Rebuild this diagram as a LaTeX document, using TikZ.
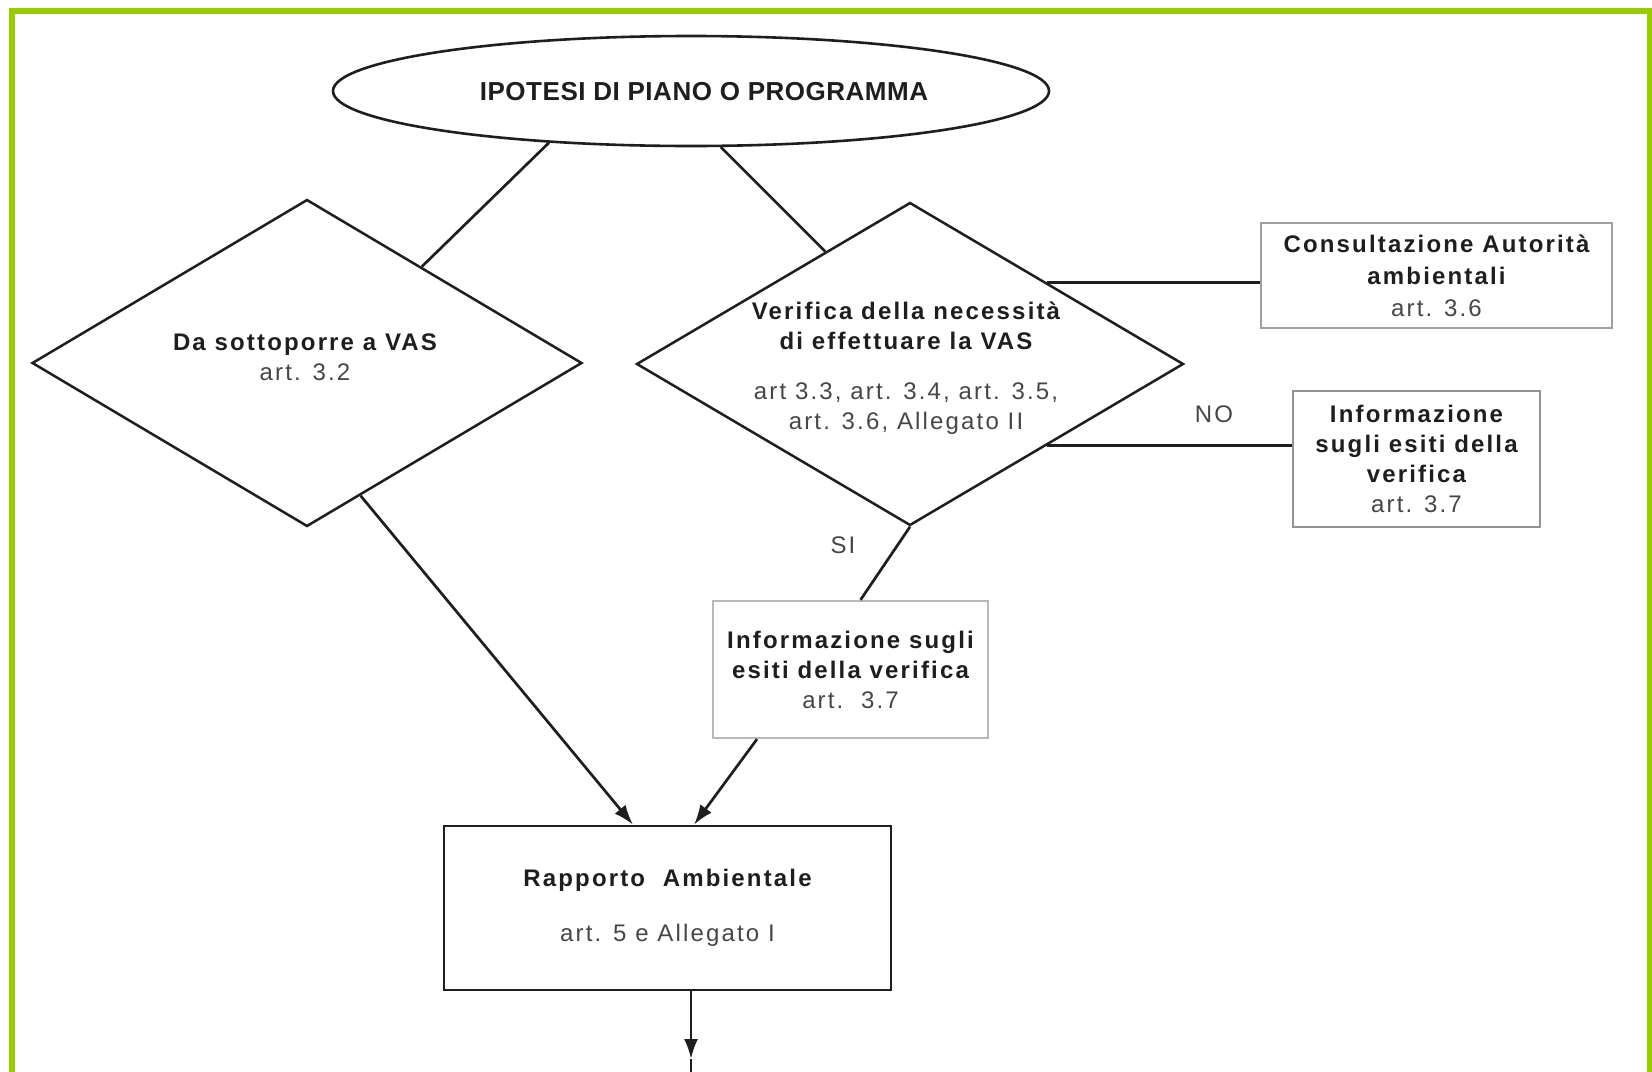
\documentclass[tikz,border=0pt]{standalone}
\usepackage{fontspec}
\usetikzlibrary{shapes.geometric,arrows.meta,calc}
\newfontfamily\labelfont{Liberation Sans}[LetterSpace=9]
\newfontfamily\titlefont{Liberation Sans}[LetterSpace=2]
\definecolor{framegreen}{RGB}{153,204,0}
\definecolor{ink}{RGB}{30,30,30}
\definecolor{softink}{RGB}{70,70,70}

\begin{document}
\begin{tikzpicture}[x=0.5pt,y=-0.5pt,
  txt/.style={font=\labelfont\fontsize{12}{15}\selectfont,align=center,inner sep=0pt,text=softink},
  conn/.style={draw=ink,line width=1.35pt},
  arr/.style={conn,-{Latex[length=10pt,width=7pt]}},
  decision/.style={shape=diamond,draw=ink,line width=1.25pt,inner sep=0pt},
  infobox/.style={draw=#1,line width=1.1pt,inner sep=0pt,fill=white,
    font=\labelfont\fontsize{12}{15}\selectfont,align=center,text=softink},
]
\useasboundingbox (0,0) rectangle (1652,1071);
\fill[white] (0,0) rectangle (1652,1071);

% green frame, open at the bottom
\draw[framegreen,line width=3pt] (12,1080) -- (12,11) -- (1649.5,11) -- (1649.5,1080);

% start: plan or programme
\node[ellipse,draw=ink,line width=1.3pt,minimum width=358pt,minimum height=55pt,inner sep=0pt]
  (ipotesi) at (691,91) {};
\node[font=\titlefont\bfseries\fontsize{13}{15}\selectfont,text=ink,inner sep=0pt]
  (ipotesit) at (704,92) {IPOTESI DI PIANO O PROGRAMMA};

% the two decisions
\node[decision,minimum width=275pt,minimum height=163.5pt] (d1) at (307,363) {};
\node[txt] (d1t) at (305,357)
  {\textcolor{ink}{\bfseries Da sottoporre a VAS}\\art. 3.2};

\node[decision,minimum width=273.5pt,minimum height=161.5pt] (d2) at (910,364) {};
\node[txt] (d2t) at (906,368)
  {\textcolor{ink}{\bfseries Verifica della necessità}\\
   \textcolor{ink}{\bfseries di effettuare la VAS}\\[10pt]
   art 3.3, art. 3.4, art. 3.5,\\art. 3.6, Allegato II};

% side boxes
\node[infobox=gray!75,minimum width=175.5pt,minimum height=52.5pt] (cons) at (1436.5,275.5)
  {\textcolor{ink}{\bfseries Consultazione Autorità}\\[1pt]
   \textcolor{ink}{\bfseries ambientali}\\[1pt]art. 3.6};

\node[infobox=gray!85,minimum width=123.5pt,minimum height=68pt] (info2) at (1416.5,459)
  {\textcolor{ink}{\bfseries Informazione}\\
   \textcolor{ink}{\bfseries sugli esiti della}\\
   \textcolor{ink}{\bfseries verifica}\\art. 3.7};

\node[infobox=gray!55,minimum width=137.5pt,minimum height=68.5pt] (info1) at (850.5,669.5)
  {\textcolor{ink}{\bfseries Informazione sugli}\\
   \textcolor{ink}{\bfseries esiti della verifica}\\art.\ \ 3.7};

\node[infobox=ink,line width=1.3pt,minimum width=223.5pt,minimum height=82pt] (rap) at (667.5,908)
  {\textcolor{ink}{\bfseries Rapporto\ \ Ambientale}\\[12.5pt]art. 5 e Allegato I};

% branch labels
\node[txt] (no) at (1214,414) {NO};
\node[txt] (si) at (843,545) {SI};

% connectors
\draw[conn] (ipotesi.200.6) -- (d1.40.4);
\draw[conn] (ipotesi.298.3) -- (d2.127.2);
\draw[conn] (d2.north east) -- (d2.north east -| cons.west);
\draw[conn] (d2.south east) -- (d2.south east -| info2.west);
\draw[conn] (d2.south) -- ([xshift=5pt]info1.north);
\draw[arr] (d1.292.8) -- ([xshift=-17.25pt]rap.north);
\draw[arr] ([xshift=-46.75pt]info1.south) -- ([xshift=13.25pt]rap.north);

\coordinate (tip) at (691,1059);
\coordinate (cut) at (691,1075);
\draw[arr] ([xshift=11.75pt]rap.south) -- (tip);
\draw[conn] (tip) -- (cut);
\end{tikzpicture}
\end{document}
